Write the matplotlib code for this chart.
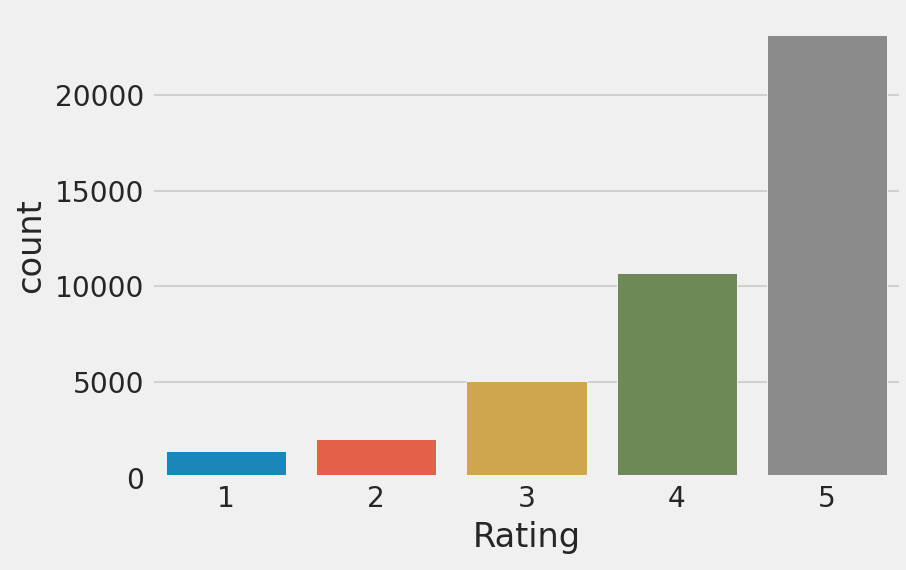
import matplotlib
matplotlib.use('Agg')
import matplotlib.pyplot as plt
import seaborn as sns

ratings = ['1', '2', '3', '4', '5']
counts = [1425, 2035, 5063, 10683, 23120]

plt.style.use('fivethirtyeight')
base = ['#008fd5', '#fc4f30', '#e5ae38', '#6d904f', '#8b8b8b']
colors = sns.color_palette(base, desat=0.75)
txt = '#262626'

dpi = 144
fig = plt.figure(figsize=(906 / dpi, 570 / dpi), dpi=dpi)
fig.patch.set_facecolor('#f0f0f0')
ax = fig.add_axes([0.1667, 0.1614, 0.829, 0.8156])

ax.bar(range(len(ratings)), counts, width=0.8, color=colors,
       edgecolor='#f0f0f0', linewidth=0.5)
ax.set_xticks(range(len(ratings)))
ax.set_xticklabels(ratings)
ax.set_xlim(-0.5, len(ratings) - 0.5)
ax.set_ylim(0, max(counts) * 1.05)
ax.grid(False, axis='x')
ax.grid(True, axis='y', color='#d0d0d0')
ax.set_axisbelow(True)
ax.tick_params(labelsize=14, labelcolor=txt)
ax.set_xlabel('Rating', fontsize=16.8, color=txt)
ax.set_ylabel('count', fontsize=16.8, color=txt)

fig.savefig('out.png', dpi=dpi, facecolor=fig.get_facecolor())
